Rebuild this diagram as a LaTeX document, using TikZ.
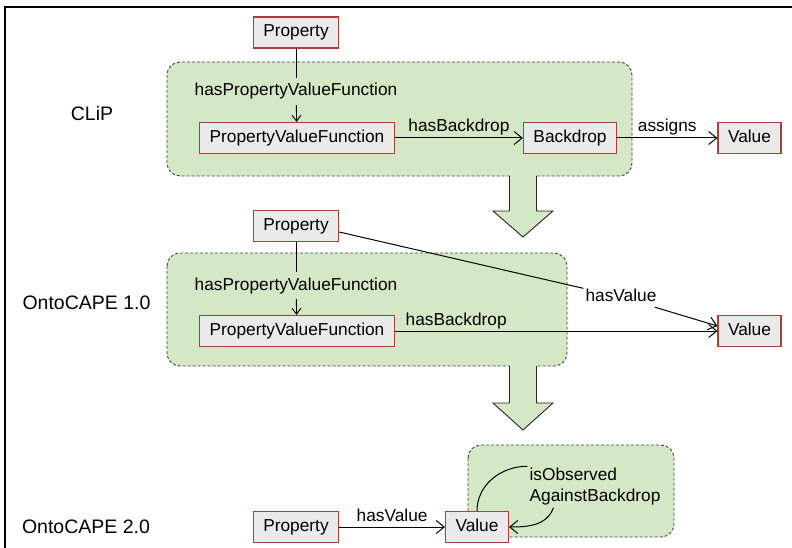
\documentclass[tikz,border=0pt]{standalone}
\usepackage{fontspec}
\setmainfont{Liberation Sans}
\usetikzlibrary{arrows.meta}

\definecolor{grpgreen}{RGB}{213,232,197}
\definecolor{boxred}{RGB}{172,62,55}
\definecolor{boxgrey}{RGB}{234,234,234}

\begin{document}
\begin{tikzpicture}[
    x=1pt, y=-1pt,
    every node/.style={font=\fontsize{17.3}{21}\selectfont},
    cls/.style={rectangle, draw=boxred, fill=boxgrey, line width=1.1pt, minimum height=31pt, inner xsep=10pt, text height=12.5pt, text depth=3.5pt},
    era/.style={font=\fontsize{19.5}{23}\selectfont},
    rel/.style={inner sep=2pt, text height=12.5pt, text depth=3.5pt},
    group/.style={draw=black!75, dash pattern=on 3pt off 2pt, fill=grpgreen, line width=0.9pt, rounded corners=13pt},
    bigarrow/.style={draw=black!85, line width=0.9pt},
    arrow/.style={-{Straight Barb[length=8pt, width=13pt]}, line width=1pt},
    smallarrow/.style={-{Straight Barb[length=6pt, width=9pt]}, line width=0.9pt},
    link/.style={line width=1pt}
]

\useasboundingbox (0,0) rectangle (792,548);
\draw[line width=1.2pt] (5,548) -- (5,7) -- (792,7);

% groups
\draw[group] (167,62) rectangle (632,176);
\draw[group] (167,253) rectangle (567,366);
\draw[group] (468,445) rectangle (674,537);

% transition arrows
\foreach \ya/\yb/\yc in {174/211/237, 364/403/430} {
    \fill[grpgreen] (509.5,\ya) -- (509.5,\yb) -- (493,\yb) -- (523,\yc) -- (553,\yb) -- (536.5,\yb) -- (536.5,\ya) -- cycle;
    \draw[bigarrow] (509.5,\ya+2) -- (509.5,\yb) -- (493,\yb) -- (523,\yc) -- (553,\yb) -- (536.5,\yb) -- (536.5,\ya+2);
}

\node[era] (clip) at (92,114) {CLiP};
\node[era] (onto1) at (86.5,303) {OntoCAPE 1.0};
\node[era] (onto2) at (86,527) {OntoCAPE 2.0};

% CLiP
\node[cls] (prop1) at (296,32.5) {Property};
\node[rel, inner ysep=5.5pt] (hpvf1) at (296,91.5) {hasPropertyValueFunction};
\node[cls] (pvf1) at (297,138) {PropertyValueFunction};
\node[cls] (bd1) at (570,138) {Backdrop};
\node[cls] (val1) at (749.5,138) {Value};

\draw[link] (prop1) -- (hpvf1);
\draw[smallarrow] (hpvf1) -- (pvf1);
\draw[arrow] (pvf1) -- node[rel, above] {hasBackdrop} (bd1);
\draw[arrow] (bd1) -- node[rel, above] {assigns} (val1);

% OntoCAPE 1.0
\node[cls] (prop2) at (296,226) {Property};
\node[rel, inner ysep=5.5pt] (hpvf2) at (296,285.5) {hasPropertyValueFunction};
\node[cls] (pvf2) at (297,331) {PropertyValueFunction};
\node[cls] (val2) at (749.5,331) {Value};
\node[rel] (hv2) at (621,297) {hasValue};

\draw[link] (prop2) -- (hpvf2);
\draw[smallarrow] (hpvf2) -- (pvf2);
\draw[arrow] (pvf2) -- node[rel, above, pos=0.19] {hasBackdrop} (val2);
\draw[link] ([yshift=-6pt]prop2.east) -- (hv2);
\draw[arrow] (hv2) -- ([yshift=5pt]val2.west);

% OntoCAPE 2.0
\node[cls] (prop3) at (296,527) {Property};
\node[cls] (val3) at (477,527) {Value};
\node[align=left, inner sep=2pt] (obs) at (595,487) {isObserved\\AgainstBackdrop};

\draw[arrow] (prop3) -- node[rel, above] {hasValue} (val3);
\draw[link] (val3.north) to[out=90, in=180] (obs.north west);
\draw[arrow] ([xshift=26pt]obs.south west) to[out=-110, in=0] (val3.east);

\end{tikzpicture}
\end{document}
